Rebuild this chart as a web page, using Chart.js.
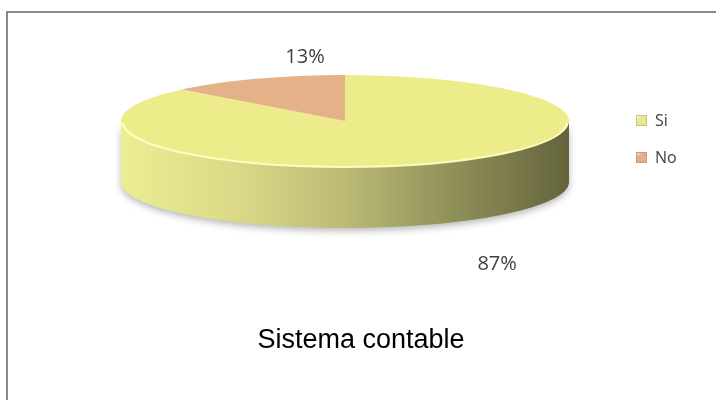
<!DOCTYPE html>
<html>
<head>
<meta charset="utf-8">
<script src="https://cdn.jsdelivr.net/npm/chart.js@4/dist/chart.umd.min.js"></script>
<style>
  html, body { margin: 0; padding: 0; background: #ffffff; }
  #wrap { position: relative; width: 716px; height: 400px; overflow: hidden; }
  canvas { display: block; }
</style>
</head>
<body>
<div id="wrap"><canvas id="c" width="716" height="400"></canvas></div>
<script>
// ---- data ----
const categories = ['Si', 'No'];
const values = [87, 13];
const percentLabels = ['87%', '13%'];
const titleText = 'Sistema contable';

// ---- styling ----
const topColors = ['#ECEC8A', '#E5B189'];
const legendBoxColors = ['#E8E890', '#E3AE88'];

// 3D projection settings (ellipse of the top face)
const VIEW = { cx: 345, cy: 121, rx: 224, ry: 46, depth: 61 };

function sideGradient(ctx) {
  const g = ctx.createLinearGradient(VIEW.cx - VIEW.rx, 0, VIEW.cx + VIEW.rx, 0);
  g.addColorStop(0.00, '#EDED93');
  g.addColorStop(0.25, '#DADA88');
  g.addColorStop(0.50, '#BBBB76');
  g.addColorStop(0.75, '#8E8E58');
  g.addColorStop(1.00, '#64643C');
  return g;
}

const pie3d = {
  id: 'pie3d',
  beforeDraw(chart) {
    const ctx = chart.ctx;
    ctx.save();
    ctx.fillStyle = '#ffffff';
    ctx.fillRect(0, 0, chart.width, chart.height);
    ctx.strokeStyle = '#8a8a8a';
    ctx.lineWidth = 2;
    ctx.strokeRect(7, 12, 900, 600);
    ctx.restore();
  },
  beforeDatasetsDraw(chart) {
    const ctx = chart.ctx;
    const arcs = chart.getDatasetMeta(0).data;
    const V = VIEW;
    ctx.save();
    ctx.shadowColor = 'rgba(0,0,0,0.28)';
    ctx.shadowBlur = 7;
    ctx.shadowOffsetY = 3;
    arcs.forEach((arc, i) => {
      const a0 = arc.startAngle, a1 = arc.endAngle;
      [[0, Math.PI], [2 * Math.PI, 3 * Math.PI]].forEach(([lo, hi]) => {
        const s = Math.max(a0, lo), e = Math.min(a1, hi);
        if (e <= s) return;
        ctx.beginPath();
        ctx.ellipse(V.cx, V.cy, V.rx, V.ry, 0, s, e, false);
        ctx.ellipse(V.cx, V.cy + V.depth, V.rx, V.ry, 0, e, s, true);
        ctx.closePath();
        ctx.fillStyle = i === 0 ? sideGradient(ctx) : '#B58A6A';
        ctx.fill();
      });
    });
    ctx.restore();
    const a = arcs[0];
    const r = a.outerRadius;
    ctx.save();
    ctx.translate(V.cx, V.cy);
    ctx.scale(V.rx / r, V.ry / r);
    ctx.translate(-a.x, -a.y);
  },
  afterDatasetsDraw(chart) {
    const ctx = chart.ctx;
    ctx.restore();
    const V = VIEW;
    ctx.save();
    ctx.strokeStyle = 'rgba(255,255,200,0.9)';
    ctx.lineWidth = 2;
    ctx.beginPath();
    ctx.ellipse(V.cx, V.cy + 1, V.rx - 2, V.ry - 1, 0, 0.02, Math.PI - 0.02, false);
    ctx.stroke();
    ctx.restore();
  },
  afterDraw(chart) {
    const ctx = chart.ctx;
    const arcs = chart.getDatasetMeta(0).data;
    const V = VIEW;
    ctx.save();
    const labelFactor = [{ fx: 1.71, fy: 2.97, dy: V.depth * 0.3 }, { fx: 0.45, fy: 1.5, dy: 0 }];
    ctx.font = '20px "Open Sans", sans-serif';
    ctx.fillStyle = '#404040';
    ctx.textAlign = 'center';
    ctx.textBaseline = 'middle';
    arcs.forEach((arc, i) => {
      const mid = (arc.startAngle + arc.endAngle) / 2;
      const f = labelFactor[i];
      const x = V.cx + Math.cos(mid) * V.rx * f.fx;
      const y = V.cy + Math.sin(mid) * V.ry * f.fy + f.dy;
      ctx.fillText(percentLabels[i], x, y);
    });
    ctx.font = '16px "Open Sans", sans-serif';
    ctx.textAlign = 'left';
    categories.forEach((cat, i) => {
      const bx = 636, by = 115 + i * 37;
      const g = ctx.createLinearGradient(bx, by, bx + 11, by + 11);
      g.addColorStop(0, '#ffffff');
      g.addColorStop(0.35, legendBoxColors[i]);
      g.addColorStop(1, legendBoxColors[i]);
      ctx.fillStyle = g;
      ctx.fillRect(bx, by, 11, 11);
      ctx.strokeStyle = i === 0 ? '#C8C878' : '#C89A78';
      ctx.lineWidth = 1;
      ctx.strokeRect(bx + 0.5, by + 0.5, 10, 10);
      ctx.fillStyle = '#404040';
      ctx.textBaseline = 'middle';
      ctx.fillText(cat, 655, by + 6);
    });
    ctx.font = '27px "Liberation Sans", Arial, sans-serif';
    ctx.fillStyle = '#000000';
    ctx.textAlign = 'center';
    ctx.textBaseline = 'alphabetic';
    ctx.fillText(titleText, 361, 348);
    ctx.restore();
  }
};

new Chart(document.getElementById('c'), {
  type: 'pie',
  data: {
    labels: categories,
    datasets: [{
      data: values,
      backgroundColor: topColors,
      borderWidth: 0,
      clip: false
    }]
  },
  options: {
    responsive: false,
    maintainAspectRatio: false,
    devicePixelRatio: 1,
    animation: false,
    events: [],
    plugins: {
      legend: { display: false },
      title: { display: false },
      tooltip: { enabled: false }
    }
  },
  plugins: [pie3d]
});
</script>
</body>
</html>
